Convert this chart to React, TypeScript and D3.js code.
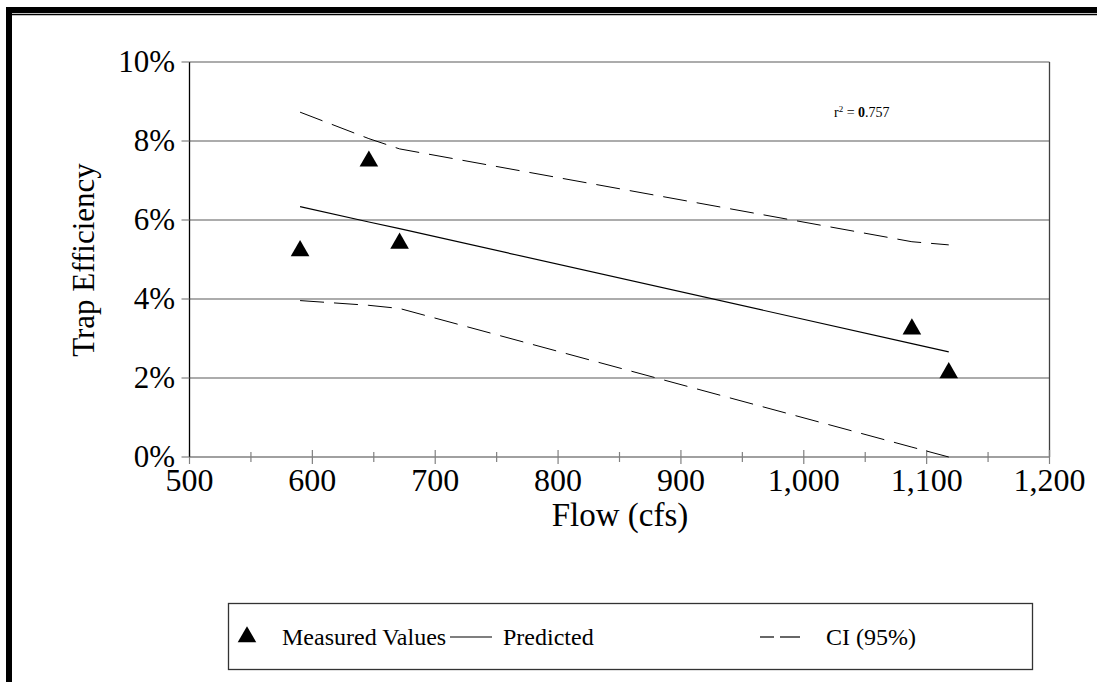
import React from "react";
import * as d3 from "d3";

const flows = [590, 646, 671, 1088, 1118];
const measured = [5.22, 7.49, 5.41, 3.24, 2.13];
const predicted = [6.34, 5.95, 5.78, 2.87, 2.66];
const ciUpper = [8.73, 8.06, 7.8, 5.45, 5.37];
const ciLower = [3.96, 3.84, 3.76, 0.25, 0.0];
const xTicks = [500, 600, 700, 800, 900, 1000, 1100, 1200];
const xMinor = [550, 650, 750, 850, 950, 1050, 1150];
const yTicks = [0, 2, 4, 6, 8, 10];
const rSquared = "757";

const W = 1097;
const H = 682;
const FONT = "Liberation Serif";

export default function App() {
  const left = 189.5, right = 1049.5, top = 62, bottom = 457;
  const x = d3.scaleLinear().domain([500, 1200]).range([left, right]);
  const y = d3.scaleLinear().domain([0, 10]).range([bottom, top]);
  const line = d3
    .line<number>()
    .x((_, i) => x(flows[i]))
    .y((d) => y(d));
  const tri = d3.symbol().type(d3.symbolTriangle).size(150)();
  const fmt = d3.format(",");

  return (
    <svg
      width={W}
      height={H}
      style={{ position: "absolute", left: 0, top: 0, background: "#fff" }}
      fontFamily={FONT}
    >
      <rect x={0} y={0} width={W} height={H} fill="#fff" />
      {/* outer frame */}
      <rect x={6} y={7} width={W - 6} height={6} fill="#000" />
      <line x1={12} x2={W} y1={14.5} y2={14.5} stroke="#000" strokeWidth={1.5} />
      <rect x={6} y={7} width={6} height={H - 7} fill="#000" />

      {/* gridlines */}
      {yTicks.slice(1, -1).map((t) => (
        <line key={t} x1={left} x2={right} y1={y(t)} y2={y(t)} stroke="#909090" strokeWidth={1.3} />
      ))}
      {/* plot border top and right */}
      <line x1={left} x2={right} y1={top} y2={top} stroke="#909090" strokeWidth={1.3} />
      <line x1={right} x2={right} y1={top} y2={bottom} stroke="#404040" strokeWidth={1.3} />

      {/* x axis */}
      <line x1={left} x2={right} y1={bottom} y2={bottom} stroke="#808080" strokeWidth={1.5} />
      {xTicks.map((t) => (
        <line key={t} x1={x(t)} x2={x(t)} y1={bottom - 7} y2={bottom + 7} stroke="#808080" strokeWidth={1.2} />
      ))}
      {xMinor.map((t) => (
        <line key={t} x1={x(t)} x2={x(t)} y1={bottom - 5} y2={bottom + 5} stroke="#808080" strokeWidth={1.2} />
      ))}
      {xTicks.map((t) => (
        <text key={t} x={x(t)} y={491} textAnchor="middle" fontSize={32}>
          {fmt(t)}
        </text>
      ))}
      <text x={620} y={526} textAnchor="middle" fontSize={33}>
        Flow (cfs)
      </text>

      {/* y axis */}
      <line x1={left} x2={left} y1={top} y2={bottom} stroke="#000" strokeWidth={1.3} />
      {yTicks.map((t) => (
        <line key={t} x1={left - 8} x2={left} y1={y(t)} y2={y(t)} stroke="#808080" strokeWidth={1.2} />
      ))}
      {yTicks.map((t) => (
        <text key={t} x={175} y={y(t)} dy="0.33em" textAnchor="end" fontSize={31}>
          {t}%
        </text>
      ))}
      <text
        transform={`translate(94,260) rotate(-90)`}
        textAnchor="middle"
        fontSize={31}
      >
        Trap Efficiency
      </text>

      {/* CI lines */}
      <path d={line(ciUpper) || ""} fill="none" stroke="#000" strokeWidth={1} strokeDasharray="24,10" />
      <path d={line(ciLower) || ""} fill="none" stroke="#000" strokeWidth={1} strokeDasharray="24,10" />
      {/* predicted */}
      <path d={line(predicted) || ""} fill="none" stroke="#000" strokeWidth={1.2} />
      {/* measured */}
      {measured.map((v, i) => (
        <path key={i} d={tri || ""} transform={`translate(${x(flows[i])},${y(v)})`} fill="#000" />
      ))}

      <text x={834} y={117} fontSize={14}>
        r<tspan fontSize={9} dy={-5}>2</tspan>
        <tspan dy={5}> = </tspan>
        <tspan fontWeight="bold">0</tspan>.{rSquared}
      </text>

      {/* legend */}
      <rect x={228.5} y={603.5} width={804} height={66} fill="#fff" stroke="#333" strokeWidth={1.3} />
      <path d={tri || ""} transform="translate(247,637)" fill="#000" />
      <text x={282} y={645} fontSize={24}>Measured Values</text>
      <line x1={450} x2={492} y1={637} y2={637} stroke="#000" strokeWidth={1.2} />
      <text x={503} y={645} fontSize={24}>Predicted</text>
      <line x1={760} x2={774} y1={637} y2={637} stroke="#000" strokeWidth={1.2} />
      <line x1={780} x2={800} y1={637} y2={637} stroke="#000" strokeWidth={1.2} />
      <text x={826} y={645} fontSize={24}>CI (95%)</text>
    </svg>
  );
}
